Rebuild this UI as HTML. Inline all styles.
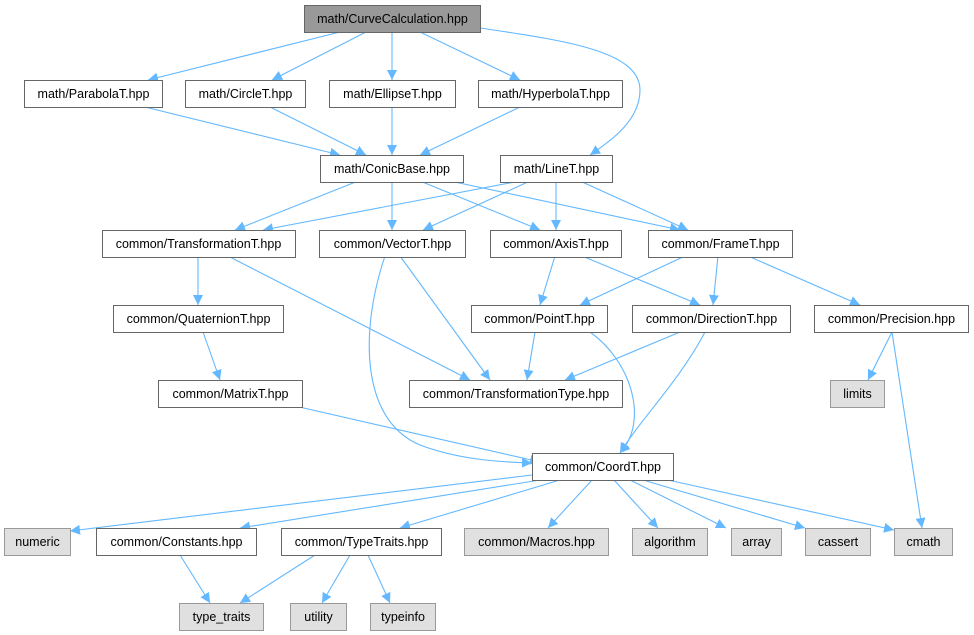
<!DOCTYPE html>
<html><head><meta charset="utf-8"><style>
body{margin:0;background:#fff;}
svg{display:block;}
text{font-family:"Liberation Sans",Arial,sans-serif;font-size:12.5px;fill:#000;}
</style></head><body>
<svg width="974" height="635" viewBox="0 0 974 635" xmlns="http://www.w3.org/2000/svg">
<defs><marker id="a" markerUnits="userSpaceOnUse" markerWidth="11" markerHeight="10" refX="10" refY="5" orient="auto"><path d="M0,0 L10,5 L0,10 Z" fill="#63b8ff"/></marker></defs>
<g stroke="#63b8ff" stroke-width="1.1" fill="none" marker-end="url(#a)">
<line x1="340" y1="32" x2="148" y2="80"/>
<line x1="366" y1="32" x2="272" y2="80"/>
<line x1="392" y1="32" x2="392" y2="80"/>
<line x1="420" y1="32" x2="520" y2="80"/>
<path d="M480,28 C560,40 640,50 640,90 C640,120 612,140 590,155"/>
<line x1="145" y1="107" x2="340" y2="155"/>
<line x1="270" y1="107" x2="366" y2="155"/>
<line x1="392" y1="107" x2="392" y2="155"/>
<line x1="520" y1="107" x2="420" y2="155"/>
<line x1="358" y1="181" x2="235" y2="230"/>
<line x1="392" y1="181" x2="392" y2="230"/>
<line x1="420" y1="181" x2="540" y2="230"/>
<line x1="450" y1="181" x2="680" y2="230"/>
<line x1="520" y1="181" x2="263" y2="230"/>
<line x1="530" y1="181" x2="423" y2="230"/>
<line x1="556" y1="181" x2="556" y2="230"/>
<line x1="580" y1="181" x2="688" y2="230"/>
<line x1="198" y1="256" x2="198" y2="305"/>
<line x1="228" y1="256" x2="470" y2="380"/>
<line x1="400" y1="256" x2="490" y2="380"/>
<path d="M385,256 C360,330 360,420 420,445 C460,460 500,462 532,463"/>
<line x1="555" y1="256" x2="540" y2="305"/>
<line x1="582" y1="256" x2="700" y2="305"/>
<line x1="685" y1="256" x2="580" y2="305"/>
<line x1="718" y1="256" x2="713" y2="305"/>
<line x1="748" y1="256" x2="860" y2="305"/>
<line x1="203" y1="332" x2="220" y2="380"/>
<line x1="535" y1="332" x2="527" y2="380"/>
<line x1="680" y1="332" x2="565" y2="380"/>
<path d="M590,332 C630,360 650,420 620,453"/>
<path d="M705,332 C680,380 640,420 620,453"/>
<line x1="892" y1="332" x2="868" y2="380"/>
<line x1="892" y1="332" x2="922" y2="528"/>
<line x1="295" y1="406" x2="540" y2="462"/>
<line x1="532" y1="475" x2="70" y2="531"/>
<line x1="540" y1="480" x2="240" y2="528"/>
<line x1="560" y1="480" x2="400" y2="528"/>
<line x1="592" y1="480" x2="548" y2="528"/>
<line x1="614" y1="480" x2="658" y2="528"/>
<line x1="630" y1="480" x2="726" y2="528"/>
<line x1="643" y1="480" x2="805" y2="528"/>
<line x1="668" y1="480" x2="894" y2="530"/>
<line x1="180" y1="555" x2="210" y2="603"/>
<line x1="315" y1="555" x2="240" y2="603"/>
<line x1="350" y1="555" x2="322" y2="603"/>
<line x1="368" y1="555" x2="390" y2="603"/>
</g>
<g stroke-width="1">
<g fill="#fff" stroke="#666">
<rect x="24.5" y="80.5" width="138" height="27"/>
<rect x="185.5" y="80.5" width="120" height="27"/>
<rect x="329.5" y="80.5" width="126" height="27"/>
<rect x="478.5" y="80.5" width="144" height="27"/>
<rect x="320.5" y="155.5" width="143" height="27"/>
<rect x="500.5" y="155.5" width="112" height="27"/>
<rect x="102.5" y="230.5" width="193" height="27"/>
<rect x="319.5" y="230.5" width="146" height="27"/>
<rect x="490.5" y="230.5" width="131" height="27"/>
<rect x="648.5" y="230.5" width="144" height="27"/>
<rect x="113.5" y="305.5" width="170" height="27"/>
<rect x="471.5" y="305.5" width="136" height="27"/>
<rect x="632.5" y="305.5" width="158" height="27"/>
<rect x="814.5" y="305.5" width="154" height="27"/>
<rect x="158.5" y="380.5" width="144" height="27"/>
<rect x="409.5" y="380.5" width="213" height="27"/>
<rect x="532.5" y="453.5" width="141" height="27"/>
<rect x="96.5" y="528.5" width="160" height="27"/>
<rect x="281.5" y="528.5" width="160" height="27"/>
</g>
<rect x="304.5" y="5.5" width="176" height="27" fill="#999" stroke="#666"/>
<g fill="#e0e0e0" stroke="#999">
<rect x="830.5" y="380.5" width="54" height="27"/>
<rect x="4.5" y="528.5" width="66" height="27"/>
<rect x="464.5" y="528.5" width="144" height="27"/>
<rect x="632.5" y="528.5" width="75" height="27"/>
<rect x="731.5" y="528.5" width="50" height="27"/>
<rect x="805.5" y="528.5" width="65" height="27"/>
<rect x="894.5" y="528.5" width="58" height="27"/>
<rect x="179.5" y="603.5" width="84" height="27"/>
<rect x="290.5" y="603.5" width="56" height="27"/>
<rect x="370.5" y="603.5" width="65" height="27"/>
</g>
</g>
<g text-anchor="middle">
<text x="392.5" y="23">math/CurveCalculation.hpp</text>
<text x="93.5" y="98">math/ParabolaT.hpp</text>
<text x="245.5" y="98">math/CircleT.hpp</text>
<text x="392.5" y="98">math/EllipseT.hpp</text>
<text x="550.5" y="98">math/HyperbolaT.hpp</text>
<text x="392" y="173">math/ConicBase.hpp</text>
<text x="556.5" y="173">math/LineT.hpp</text>
<text x="198.5" y="248">common/TransformationT.hpp</text>
<text x="392.5" y="248">common/VectorT.hpp</text>
<text x="556" y="248">common/AxisT.hpp</text>
<text x="720.5" y="248">common/FrameT.hpp</text>
<text x="198.5" y="323">common/QuaternionT.hpp</text>
<text x="539.5" y="323">common/PointT.hpp</text>
<text x="711.5" y="323">common/DirectionT.hpp</text>
<text x="891.5" y="323">common/Precision.hpp</text>
<text x="230.5" y="398">common/MatrixT.hpp</text>
<text x="516" y="398">common/TransformationType.hpp</text>
<text x="857.5" y="398">limits</text>
<text x="603" y="471">common/CoordT.hpp</text>
<text x="37.5" y="546">numeric</text>
<text x="176.5" y="546">common/Constants.hpp</text>
<text x="361.5" y="546">common/TypeTraits.hpp</text>
<text x="536.5" y="546">common/Macros.hpp</text>
<text x="670" y="546">algorithm</text>
<text x="756.5" y="546">array</text>
<text x="838" y="546">cassert</text>
<text x="923.5" y="546">cmath</text>
<text x="221.5" y="621">type_traits</text>
<text x="318.5" y="621">utility</text>
<text x="403" y="621">typeinfo</text>
</g>
</svg>
</body></html>
